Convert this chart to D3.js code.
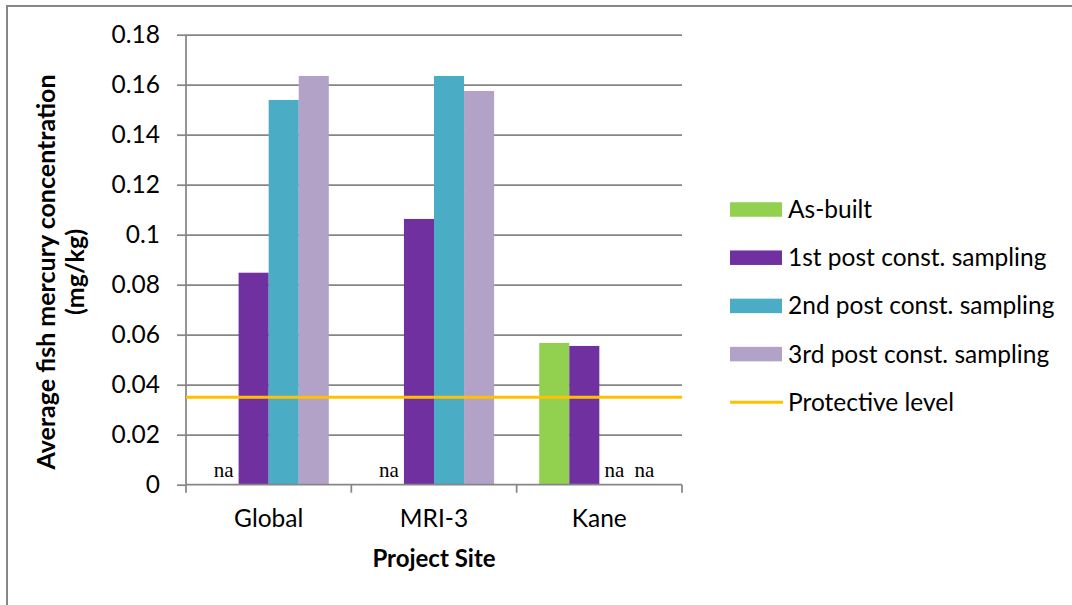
<!DOCTYPE html>
<html><head><meta charset="utf-8">
<script src="https://cdn.jsdelivr.net/npm/d3@7"></script>
<style>body{margin:0;background:#fff} svg{display:block}</style>
</head><body><svg id="c" width="1072" height="605"></svg>
<script>
// ---- data ----
const categories = ["Global", "MRI-3", "Kane"];
const seriesNames = ["As-built", "1st post const. sampling", "2nd post const. sampling", "3rd post const. sampling"];
const asBuilt = [null, null, 0.0567];
const firstPost = [0.0848, 0.1063, 0.0555];
const secondPost = [0.1539, 0.1635, null];
const thirdPost = [0.1635, 0.1575, null];
const protectiveLevel = 0.035;
const protectiveName = "Protective level";
const yTicks = [0, 0.02, 0.04, 0.06, 0.08, 0.10, 0.12, 0.14, 0.16, 0.18];
const yTickLabels = ["0", "0.02", "0.04", "0.06", "0.08", "0.1", "0.12", "0.14", "0.16", "0.18"];
const naLabel = "na";
const yTitleLines = ["Average fish mercury concentration", "(mg/kg)"];
const xTitle = "Project Site";
const seriesColors = ["#92D050", "#7030A0", "#4BACC6", "#B2A2C7"];
const lineColor = "#FFC000";

const seriesValues = [asBuilt, firstPost, secondPost, thirdPost];

// ---- layout ----
const svg = d3.select("#c");
const L = 186, T = 34.7, R = 682, B = 484.7;
const gridColor = "#868686";
const font = "Lato, 'Open Sans', sans-serif";
const fs = 24.5;

// chart border
svg.append("rect").attr("x", 7).attr("y", 6).attr("width", 1100).attr("height", 640)
  .attr("fill", "none").attr("stroke", gridColor).attr("stroke-width", 2);

const y = d3.scaleLinear().domain([0, 0.18]).range([B, T]);
const x0 = d3.scaleBand().domain(categories).range([L, R]).padding(0);
const x1 = d3.scaleBand().domain(seriesNames).range([0, x0.bandwidth()]).paddingInner(0).paddingOuter(0.75);

// gridlines
const grid = svg.append("g").attr("transform", `translate(${L},0)`)
  .call(d3.axisLeft(y).tickValues(yTicks.slice(1)).tickSize(-(R - L)).tickFormat(""));
grid.select(".domain").remove();
grid.selectAll("line").attr("stroke", gridColor).attr("stroke-width", 1.75);

// bars
const barData = [];
categories.forEach((c, ci) => seriesNames.forEach((s, si) => {
  barData.push({ c, s, si, v: seriesValues[si][ci] });
}));
svg.append("g").selectAll("rect").data(barData.filter(d => d.v != null)).join("rect")
  .attr("x", d => x0(d.c) + x1(d.s))
  .attr("y", d => y(d.v))
  .attr("width", x1.bandwidth())
  .attr("height", d => y(0) - y(d.v))
  .attr("fill", d => seriesColors[d.si]);

// na labels
svg.append("g").selectAll("text").data(barData.filter(d => d.v == null)).join("text")
  .attr("x", d => x0(d.c) + x1(d.s) + x1.bandwidth() / 2)
  .attr("y", B - 8)
  .attr("text-anchor", "middle")
  .attr("font-family", "'Liberation Serif', 'Times New Roman', serif")
  .attr("font-size", 21)
  .attr("fill", "#000")
  .text(naLabel);

// y axis
const yAxis = svg.append("g").attr("transform", `translate(${L},0)`)
  .call(d3.axisLeft(y).tickValues(yTicks).tickSize(9).tickPadding(17)
    .tickFormat((d, i) => yTickLabels[i]));
yAxis.select(".domain").attr("stroke", gridColor).attr("stroke-width", 1.75).attr("d", `M0,${T}V${B}`);
yAxis.selectAll("line").attr("stroke", gridColor).attr("stroke-width", 1.75);
yAxis.selectAll("text").attr("font-family", font).attr("font-size", fs).attr("fill", "#000");

// x axis
const xAxisG = svg.append("g");
xAxisG.append("line").attr("x1", L).attr("x2", R).attr("y1", B).attr("y2", B)
  .attr("stroke", gridColor).attr("stroke-width", 1.75);
const bounds = categories.map(c => x0(c)).concat([x0(categories[categories.length - 1]) + x0.bandwidth()]);
xAxisG.selectAll("line.tk").data(bounds).join("line").attr("class", "tk")
  .attr("x1", d => d).attr("x2", d => d).attr("y1", B).attr("y2", B + 8)
  .attr("stroke", gridColor).attr("stroke-width", 1.75);
xAxisG.selectAll("text").data(categories).join("text")
  .attr("x", d => x0(d) + x0.bandwidth() / 2).attr("y", 527)
  .attr("text-anchor", "middle").attr("font-family", font).attr("font-size", fs).attr("fill", "#000")
  .text(d => d);

// protective level line
svg.append("line").attr("x1", L).attr("x2", R).attr("y1", y(protectiveLevel)).attr("y2", y(protectiveLevel))
  .attr("stroke", lineColor).attr("stroke-width", 3);

// axis titles
svg.append("text").attr("x", (L + R) / 2).attr("y", 567).attr("text-anchor", "middle")
  .attr("font-family", font).attr("font-weight", "bold").attr("font-size", 24).attr("fill", "#000")
  .text(xTitle);
const yt = svg.append("text").attr("transform", "translate(55,272) rotate(-90)")
  .attr("text-anchor", "middle").attr("font-family", font).attr("font-weight", "bold")
  .attr("font-size", 25).attr("fill", "#000");
yTitleLines.forEach((t, i) => yt.append("tspan").attr("x", 0).attr("y", i * 29).text(t));

// legend
const legendItems = seriesNames.map((n, i) => ({ n, type: "rect", color: seriesColors[i] }))
  .concat([{ n: protectiveName, type: "line", color: lineColor }]);
const lg = svg.append("g").attr("transform", "translate(730,209.5)");
const row = lg.selectAll("g").data(legendItems).join("g")
  .attr("transform", (d, i) => `translate(0,${i * 48.2})`);
row.filter(d => d.type === "rect").append("rect")
  .attr("x", 0).attr("y", -7.25).attr("width", 52).attr("height", 14.5).attr("fill", d => d.color);
row.filter(d => d.type === "line").append("line")
  .attr("x1", 0).attr("x2", 53).attr("y1", 0).attr("y2", 0).attr("stroke", d => d.color).attr("stroke-width", 3);
row.append("text").attr("x", 58).attr("y", 0).attr("dy", "0.35em")
  .attr("font-family", font).attr("font-size", fs).attr("fill", "#000").text(d => d.n);
</script></body></html>
